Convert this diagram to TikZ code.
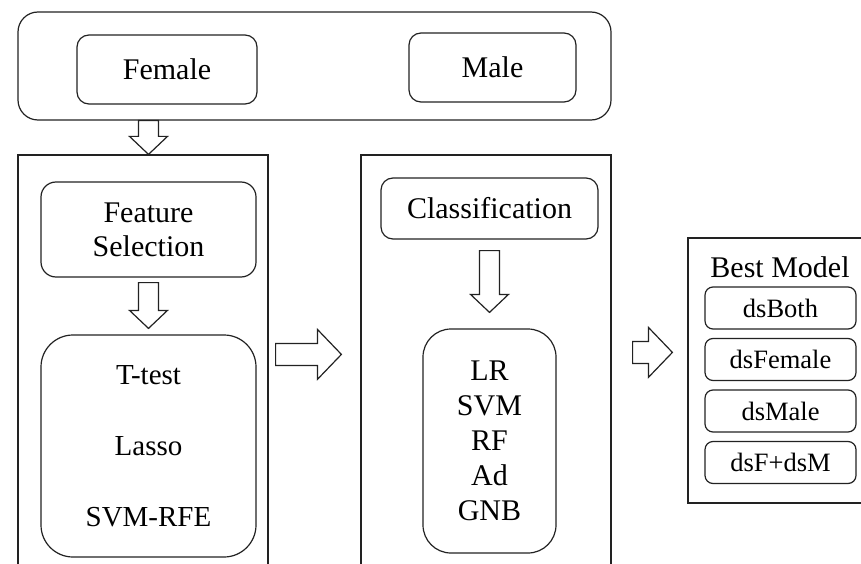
\documentclass[tikz,border=0pt]{standalone}
\usepackage{fontspec}
\setmainfont{Liberation Serif}
\usetikzlibrary{calc}
\definecolor{Ink}{HTML}{222222}
\tikzset{
  stage/.style={draw=Ink,line width=1.2pt,rounded corners=#1,inner sep=0pt,align=center,
    font=\fontsize{30}{34}\selectfont},
  stage/.default=12pt,
  panel/.style={draw=Ink,line width=1.2pt,inner sep=0pt},
  item/.style={stage=8pt,minimum width=151,minimum height=42,font=\fontsize{26.5}{30}\selectfont},
  hollow/.style={draw=Ink,line width=1.2pt,fill=white,line join=miter}
}
\newcommand{\DownArrow}[2]{%
  \draw[hollow] let \p1=(#1), \p2=(#2) in
    (\x1-10pt,\y1) -- (\x1+10pt,\y1) -- (\x1+10pt,\y2+18pt) -- (\x1+19pt,\y2+18pt)
    -- (\x1,\y2) -- (\x1-19pt,\y2+18pt) -- (\x1-10pt,\y2+18pt) -- cycle;%
}
\newcommand{\RightArrow}[2]{%
  \draw[hollow] let \p1=(#1), \p2=(#2) in
    (\x1,\y1+11pt) -- (\x2-24pt,\y1+11pt) -- (\x2-24pt,\y1+25pt) -- (\x2,\y1)
    -- (\x2-24pt,\y1-25pt) -- (\x2-24pt,\y1-11pt) -- (\x1,\y1-11pt) -- cycle;%
}
\begin{document}
\begin{tikzpicture}[x=1pt,y=-1pt]
\useasboundingbox (0,0) rectangle (861,564);
\clip (0,0) rectangle (861,564);
% data sets
\node[stage=20pt,minimum width=593,minimum height=108] (top) at (314.5,66) {};
\node[stage,minimum width=180,minimum height=69] (fem) at (167,69.5) {Female};
\node[stage,minimum width=167,minimum height=69] (male) at (492.5,67.5) {Male};
% feature selection
\node[panel,minimum width=250,minimum height=445] (selpanel) at (143,377.5) {};
\node[stage=15pt,minimum width=215,minimum height=95] (fs) at (148.5,229.5) {Feature\\Selection};
\node[stage=32pt,minimum width=215,minimum height=222,font=\fontsize{29}{71}\selectfont]
  (meth) at (148.5,446) {T-test\\Lasso\\SVM-RFE};
% classification
\node[panel,minimum width=250,minimum height=445] (clspanel) at (486,377.5) {};
\node[stage,minimum width=217,minimum height=61] (cls) at (489.5,208.5) {Classification};
\node[stage=28pt,minimum width=133,minimum height=224,font=\fontsize{30}{35}\selectfont]
  (clf) at (489.5,441) {LR\\SVM\\RF\\Ad\\GNB};
% best model
\node[panel,minimum width=185,minimum height=265] (best) at (780.5,370.5) {};
\node[font=\fontsize{30}{34}\selectfont,inner sep=0pt] (besttitle) at (780,267) {Best Model};
\foreach \n/\y/\t in {1/308/dsBoth,2/359.5/dsFemale,3/411/dsMale,4/462.5/dsF+dsM}
  \node[item] (ds\n) at (780.5,\y) {\t};
% arrows
\DownArrow{top.south -| fs}{selpanel.north -| fs}
\DownArrow{$(fs.south)+(0,5)$}{$(meth.north)+(0,-6)$}
\DownArrow{$(cls.south)+(0,11)$}{$(clf.north)+(0,-16)$}
\RightArrow{$(selpanel.north east)+(7,200)$}{$(clspanel.north west)+(-19,200)$}
\RightArrow{$(clspanel.north east)+(21,198)$}{$(best.north west)+(-15,115)$}
\end{tikzpicture}
\end{document}
